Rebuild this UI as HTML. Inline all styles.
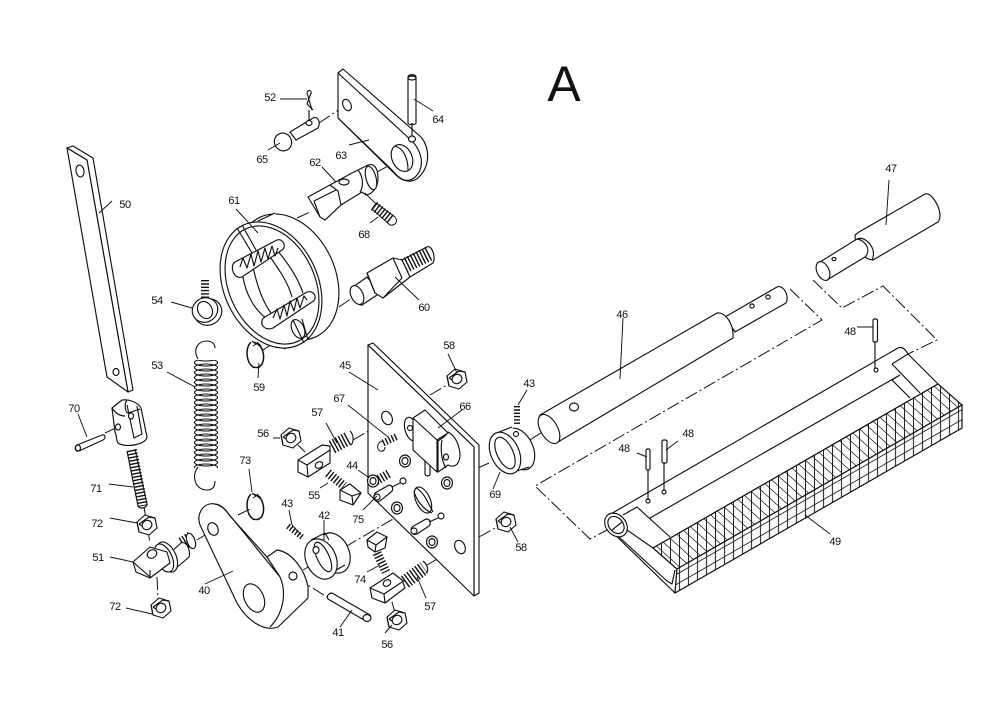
<!DOCTYPE html>
<html><head><meta charset="utf-8"><style>
html,body{margin:0;padding:0;background:#fff}
svg{display:block}
.p *,.p{fill:#fff;stroke:#111;stroke-width:1.15;stroke-linejoin:round}
.n{fill:none!important}
.c{fill:none;stroke:#111;stroke-width:1;stroke-dasharray:13 3 2 3}
.l{fill:none;stroke:#111;stroke-width:.95}
.t{fill:none;stroke:#111;stroke-dasharray:1.4 1.9}
text{font-family:"Liberation Sans",sans-serif;font-size:11px;letter-spacing:-.5px;fill:#111;text-anchor:middle;stroke:none}
</style></head><body>
<svg width="1000" height="707" viewBox="0 0 1000 707" xmlns="http://www.w3.org/2000/svg">
<defs>
<pattern id="ht" patternUnits="userSpaceOnUse" width="9" height="10" patternTransform="skewY(42)"><path d="M4.5 0V10M0 5H9" stroke="#222" stroke-width="1.1" fill="none"/></pattern>
<pattern id="hf" patternUnits="userSpaceOnUse" width="9" height="10" patternTransform="skewY(-30)"><path d="M4.5 0V10M0 5H9" stroke="#222" stroke-width="1.1" fill="none"/></pattern>
<pattern id="sp" patternUnits="userSpaceOnUse" x="194" y="360" width="24" height="5"><g fill="none" stroke="#111" stroke-width="1.1"><ellipse cx="12" cy="2.5" rx="11.5" ry="3.5"/><ellipse cx="12" cy="-2.5" rx="11.5" ry="3.5"/><ellipse cx="12" cy="7.5" rx="11.5" ry="3.5"/></g></pattern>
<g id="nut"><path d="M-10-3L-2-10 8-7 10 3 2 10-8 7Z"/><path class="n" d="M-10-3L-8 7M-8-1L2-8 8-7M-8-1L-2 3"/><ellipse cx="0" cy="0" rx="5" ry="4.5" transform="rotate(-30)"/></g>
<g id="ring"><ellipse rx="5.5" ry="6"/><ellipse rx="3" ry="3.5"/></g>
</defs>
<rect width="1000" height="707" fill="#fff"/>

<text x="564" y="101" style="font-size:50px;letter-spacing:0">A</text>

<path class="c" d="M790 289L822 320 535 486 590 539 607 530"/>
<path class="c" d="M813 280L842 308 883 286 937 340 908 354"/>
<path class="c" d="M319 123L343 107M375 173L405 157M297 218L310 212M339 307L352 298M263 350L293 330M105 433L118 427M144 507L150 543M157 577L158 600M197 540L213 530M238 515L252 508M295 577L327 597M303 570L323 558M345 547L417 505M292 525L303 537M298 445L305 452M353 440L387 420M400 435L412 428M391 472L403 462M392 487L403 481M427 565L458 547M392 602L395 613M430 395L447 385M479 537L497 527M478 468L489 463M497 460L505 453M530 440L548 428"/>

<g class="p">
<path d="M67 148L73 146 93 158 133 390 128 392 87 160Z"/>
<path d="M67 148L87 160 128 392 107 377Z"/>
<ellipse cx="80" cy="171" rx="4" ry="6" transform="rotate(-10 80 171)"/>
<ellipse cx="116" cy="372" rx="3" ry="3.5"/>
</g>

<g class="p">
<path d="M343 69L421 137C430 148 430 165 420 176 414 183 404 183 396 175L338 118 338 73Z"/>
<path class="n" d="M338 73L413 142C424 155 424 170 414 178 407 183 400 180 392 170L338 118"/>
<ellipse cx="347" cy="105" rx="4" ry="6" transform="rotate(-25 347 105)"/>
<ellipse cx="402" cy="158" rx="10" ry="14" transform="rotate(-25 402 158)"/>
<path class="n" d="M395 146C402 148 408 156 408 170"/>
<path d="M408 77C408 74 416 74 416 77V123C416 125 408 125 408 123Z"/>
<ellipse cx="412" cy="78" rx="4" ry="2"/>
<path class="n" d="M412 123V136"/>
<ellipse cx="412" cy="139" rx="3.5" ry="3"/>
</g>

<g class="p">
<path d="M290 132L313 118C318 116 321 122 318 128L296 140Z"/>
<ellipse cx="309" cy="123" rx="3" ry="2.5"/>
<ellipse cx="283" cy="142" rx="8.5" ry="9" transform="rotate(-30 283 142)"/>
<path class="n" d="M309 110V121M307 93L312 110M311 93L307 104 313 110M307 93C308 89 312 90 311 94"/>
</g>

<g class="p">
<path d="M330 185L352 173 368 165C374 163 378 168 378 178 378 188 372 194 366 195L362 192 341 205 325 220Z"/>
<ellipse cx="371" cy="178" rx="5" ry="12" transform="rotate(-15 371 178)"/>
<path class="n" d="M358 170C363 176 364 186 360 192"/>
<path d="M308 197L330 185 338 191 341 205 325 220 320 217Z"/>
<path class="n" d="M320 217L314 201 336 190"/>
<ellipse cx="344" cy="182" rx="5" ry="3"/>
</g>

<line class="t" x1="374" y1="206" x2="392" y2="220" stroke-width="10"/>
<path fill="none" stroke="#111" d="M372 209L376 203 395 217C399 222 394 226 390 225Z"/>

<g class="p">
<ellipse cx="288" cy="277" rx="47" ry="66" transform="rotate(-25 288 277)"/>
<path style="stroke:none" d="M258 221L275 213 301 341 284 349Z"/>
<path class="n" d="M258 221L275 213M284 349L301 341"/>
<ellipse cx="271" cy="285" rx="47" ry="66" transform="rotate(-25 271 285)"/>
<ellipse class="n" cx="272" cy="285" rx="43" ry="62" transform="rotate(-25 272 285)"/>
<path class="n" d="M243 277C246 295 255 310 266 318M253 267C258 290 265 308 276 319M277 250C287 262 298 278 303 293M268 254C278 268 288 282 292 297"/>
<path d="M235 262L277 240C283 238 287 247 282 250L242 277C234 280 229 266 235 262Z"/>
<path d="M265 317L307 292C315 290 318 299 312 302L273 328C263 332 258 321 265 317Z"/>
<polyline class="n" points="240,267 243,258 247,268 251,254 254,266 258,251 261,262 265,248 268,259 272,246 275,256 278,248"/>
<polyline class="n" points="273,318 277,309 280,319 284,305 287,316 290,301 294,311 297,298 300,308 304,296 307,300"/>
<path class="n" d="M237 228L252 253M242 225L256 250"/>
<ellipse cx="298" cy="329" rx="6" ry="10" transform="rotate(-25 298 329)"/>
<path class="n" d="M293 320L304 343M302 319L308 340"/>
</g>

<line class="t" x1="404" y1="266" x2="430" y2="253" stroke-width="15"/>
<g class="p">
<path class="n" d="M402 260L427 247C432 244 436 258 433 263L410 277"/>
<path d="M353 287L367 277 380 293 362 305C355 306 350 293 353 287Z"/>
<path d="M367 273L393 258 402 260 410 277 383 298 375 293Z"/>
<path class="n" d="M367 273L375 293M393 258L402 278 383 298"/>
<ellipse cx="357" cy="295" rx="6" ry="10" transform="rotate(-25 357 295)"/>
</g>

<line class="t" x1="205" y1="280" x2="205" y2="300" stroke-width="8"/>
<g class="p">
<ellipse cx="208" cy="312" rx="14" ry="13" transform="rotate(-30 208 312)"/>
<ellipse cx="205" cy="310" rx="13" ry="12" transform="rotate(-30 205 310)"/>
<ellipse cx="205" cy="310" rx="7" ry="9" transform="rotate(-30 205 310)"/>
</g>

<g fill="none" stroke="#111">
<path stroke-width="1.5" d="M251 342C245 348 246 362 253 367 262 370 266 360 262 349 260 345 256 343 253 342"/>
<path d="M252 341L256 344 253 346M257 342L261 346"/>
<path stroke-width="1.5" d="M251 494C245 500 246 514 253 519 262 522 266 512 262 501 260 497 256 495 253 494"/>
<path d="M252 493L256 496 253 498M257 494L261 498"/>
<path stroke-width="1.1" d="M198 359C192 348 199 341 207 341 212 341 215 344 215 348M198 467C191 476 195 490 207 490 213 490 215 486 215 481"/>
</g>
<rect x="194" y="360" width="24" height="108" fill="url(#sp)"/>

<g class="p">
<path d="M77 445L102 435C106 434 106 438 103 440L79 451C75 452 74 447 77 445Z"/>
<ellipse cx="78" cy="448" rx="2.5" ry="3"/>
</g>

<line class="t" x1="132" y1="450" x2="143" y2="506" stroke-width="10"/>
<g class="p">
<path class="n" d="M127 451L138 506C140 509 146 509 147 504L135 449"/>
<path d="M112 408L122 400C128 399 138 402 141 408L147 437C146 445 125 448 118 443 116 440 117 436 115 432Z"/>
<path class="n" d="M112 408C116 414 120 416 125 416M127 400C124 404 125 412 128 413L140 409M127 405L134 438 142 434 137 406"/>
<ellipse cx="118" cy="427" rx="2.5" ry="3"/><ellipse cx="131" cy="416" rx="2.5" ry="3"/>
</g>

<use href="#nut" x="147" y="525" class="p"/>
<use href="#nut" x="161" y="608" class="p"/>

<line class="t" x1="182" y1="544" x2="192" y2="538" stroke-width="14"/>
<g class="p">
<path d="M172 551L181 543C187 540 191 552 189 557L174 570Z"/>
<ellipse cx="191" cy="541" rx="4" ry="8" transform="rotate(-20 191 541)"/>
<ellipse cx="167" cy="557" rx="9" ry="16" transform="rotate(-25 167 557)"/>
<ellipse cx="164" cy="558" rx="8" ry="15" transform="rotate(-25 164 558)"/>
<path d="M133 562L150 547 167 552 170 563 150 578 136 572Z"/>
<path class="n" d="M133 562L150 577M150 578V570"/>
<ellipse cx="152" cy="554" rx="5" ry="4" transform="rotate(-30 152 554)"/>
</g>

<g class="p">
<path d="M267 557L277 550C292 552 305 570 308 587V598L278 627C265 632 248 622 237 603L200 525C196 513 204 502 215 504 222 505 226 510 230 516Z"/>
<path class="n" d="M215 504C222 505 226 511 232 518L280 577C286 590 285 612 270 627M267 557L280 577"/>
<ellipse cx="254" cy="598" rx="9.5" ry="15" transform="rotate(-25 254 598)"/>
<ellipse cx="213" cy="529" rx="5" ry="6.5" transform="rotate(-25 213 529)"/>
<ellipse cx="293" cy="576" rx="4" ry="4"/>
</g>

<g class="p">
<path d="M332 593L370 615C373 620 366 622 364 620L328 599C326 596 329 593 332 593Z"/>
<ellipse cx="367" cy="618" rx="4" ry="3.5"/>
</g>

<g class="p">
<ellipse cx="334" cy="553" rx="15" ry="21" transform="rotate(-25 334 553)"/>
<path style="stroke:none" d="M310 542L322 534 348 562 330 578Z"/>
<path class="n" d="M311 540L325 533M322 578L345 565"/>
<ellipse cx="321" cy="559" rx="15" ry="21" transform="rotate(-25 321 559)"/>
<ellipse cx="323" cy="557" rx="6" ry="16" transform="rotate(-25 323 557)"/>
<ellipse cx="316" cy="550" rx="3" ry="3.5"/>
<path class="n" d="M325 533L329 540"/>
</g>
<line class="t" x1="288" y1="526" x2="302" y2="537" stroke-width="6"/>

<g class="p">
<path d="M368 345L373 343 479 445 479 593 474 596 474 447Z"/>
<path d="M368 345L474 447V596L368 493Z"/>
<ellipse cx="387" cy="418" rx="5" ry="7" transform="rotate(-25 387 418)"/>
<ellipse cx="460" cy="547" rx="5" ry="7" transform="rotate(-25 460 547)"/>
<ellipse cx="423" cy="500" rx="7" ry="14" transform="rotate(-25 423 500)"/>
<path class="n" d="M416 488C424 492 428 503 433 512M414 491C416 500 424 510 432 513"/>
</g>
<use href="#ring" x="397" y="508" class="p"/>
<use href="#ring" x="447" y="483" class="p"/>
<use href="#ring" x="432" y="542" class="p"/>
<use href="#ring" x="405" y="461" class="p"/>

<g class="p">
<path d="M425 460V474C426 477 430 476 430 474V462Z"/>
<ellipse cx="411" cy="429" rx="6" ry="12" transform="rotate(-15 411 429)"/>
<path d="M448 432L445 436 438 441V472L448 465C458 470 462 458 459 448 457 439 452 434 448 432Z"/>
<path class="n" d="M442 440C440 450 442 462 446 468"/>
<ellipse cx="446" cy="457" rx="2.5" ry="3"/>
<path d="M413 418L425 410 448 433 437 440V472L413 450Z"/>
<path class="n" d="M413 418L437 440"/>
<ellipse cx="410" cy="428" rx="2.5" ry="2.5"/>
</g>

<line class="t" x1="383" y1="443" x2="398" y2="436" stroke-width="7"/>
<path fill="none" stroke="#111" d="M383 441C377 442 376 449 380 451 384 452 385 449 385 447"/>
<line class="t" x1="376" y1="481" x2="390" y2="473" stroke-width="9"/>
<use href="#ring" x="373" y="481" class="p"/>
<g class="p">
<path d="M375 493L389 485C394 486 393 491 391 492L380 501C374 503 373 497 375 493Z"/>
<ellipse cx="377" cy="497" rx="3" ry="3"/>
<ellipse cx="403" cy="481" rx="3" ry="3"/>
<path class="n" d="M392 487L400 483"/>
<path d="M412 527L426 519C431 519 431 524 429 526L417 534C412 536 410 531 412 527Z"/>
<ellipse cx="414" cy="531" rx="3" ry="3"/>
<ellipse cx="441" cy="516" rx="3" ry="3"/>
<path class="n" d="M429 522L438 518"/>
</g>

<line class="t" x1="332" y1="447" x2="349" y2="438" stroke-width="14"/>
<g class="p">
<path d="M298 460L322 445 330 446 330 463 308 477 298 472Z"/>
<path class="n" d="M298 460L307 465 308 477M307 465L330 450"/>
<ellipse cx="319" cy="465" rx="4" ry="3" transform="rotate(-30 319 465)"/>
<path class="n" d="M350 431C354 435 354 442 351 445"/>
</g>
<use href="#nut" x="291" y="438" class="p"/>

<line class="t" x1="328" y1="473" x2="344" y2="486" stroke-width="9"/>
<g class="p">
<path d="M340 490L350 484 361 493 353 505 340 500Z"/>
<path class="n" d="M340 490L352 496 353 505M352 496L361 493"/>
</g>

<line class="t" x1="377" y1="553" x2="386" y2="572" stroke-width="9"/>
<g class="p"><path d="M367 540L377 532 387 537 385 548 375 552 368 547Z"/><path class="n" d="M367 540L376 545 375 552M376 545L387 537"/></g>

<line class="t" x1="405" y1="582" x2="424" y2="568" stroke-width="14"/>
<g class="p">
<path d="M370 588L393 573 402 580 405 588 385 603 372 598Z"/>
<path class="n" d="M370 588L384 594 385 603M384 594L405 580"/>
<ellipse cx="387" cy="583" rx="4" ry="3" transform="rotate(-30 387 583)"/>
<path class="n" d="M423 561C428 565 429 571 426 573"/>
</g>
<use href="#nut" x="397" y="620" class="p"/>
<use href="#nut" x="457" y="379" class="p"/>
<use href="#nut" x="506" y="522" class="p"/>

<g class="p">
<ellipse cx="519" cy="449" rx="14" ry="22" transform="rotate(-25 519 449)"/>
<path style="stroke:none" d="M495 436L512 427 531 463 515 473Z"/>
<path class="n" d="M494 434L512 427M511 473L529 467"/>
<ellipse cx="505" cy="453" rx="14" ry="22" transform="rotate(-25 505 453)"/>
<ellipse cx="505" cy="453" rx="8" ry="17" transform="rotate(-25 505 453)"/>
<ellipse cx="516" cy="434" rx="2.5" ry="2.5"/>
</g>
<line class="t" x1="517" y1="406" x2="517" y2="424" stroke-width="6"/>

<g class="p">
<path d="M725 317L777 287C783 284 790 296 786 303L735 332Z"/>
<ellipse cx="752" cy="306" rx="2.2" ry="2"/><ellipse cx="768" cy="297" rx="2.2" ry="2"/>
<path d="M540 415L717 313C725 312 734 323 733 338L558 442C550 444 540 430 540 415Z"/>
<ellipse cx="549" cy="429" rx="8.5" ry="16" transform="rotate(-30 549 429)"/>
<ellipse cx="574" cy="407" rx="4.5" ry="4"/>
</g>

<g class="p">
<path d="M859 232L925 194C931 192 939 205 940 214 940 218 939 221 938 222L873 260C864 260 855 247 855 235Z"/>
<path d="M820 262L857 239C865 240 872 250 865 257L827 280Z"/>
<path class="n" d="M857 239C863 236 871 243 873 250 874 254 873 258 872 260"/>
<ellipse cx="823" cy="271" rx="6" ry="10" transform="rotate(-25 823 271)"/>
<ellipse cx="834" cy="259" rx="2" ry="1.6"/>
</g>

<g class="p">
<path d="M609 515L898 348C903 346 906 350 908 354L938 384 653 548 677 569 675 593 608 528Z"/>
<path class="n" d="M623 515L637 507 670 537M650 518L900 375M892 364L908 354M892 364L920 393M892 380L910 398M900 375L892 380"/>
<path class="n" d="M627 530L653 548M618 536L667 581 672 584 675 570"/>
<ellipse cx="616" cy="525" rx="10" ry="13" transform="rotate(-40 616 525)"/>
<ellipse cx="616" cy="525" rx="7" ry="9.5" transform="rotate(-40 616 525)"/>
<line x1="612" y1="530" x2="622" y2="522"/>
<circle cx="648" cy="501" r="2"/><circle cx="664" cy="492" r="2"/><circle cx="876" cy="370" r="2"/>
</g>
<path d="M653 548L938 384 962 405 677 569Z" fill="#fff"/>
<path d="M653 548L938 384 962 405 677 569Z" fill="url(#ht)" stroke="#111" stroke-width="1.2"/>
<path d="M677 569L962 405V428L675 593Z" fill="#fff"/>
<path d="M677 569L962 405V428L675 593Z" fill="url(#hf)" stroke="#111" stroke-width="1.2"/>

<g class="p">
<path class="n" d="M648 470V500M664 463V490M875 342V369"/>
<rect x="646" y="449" width="4" height="21" rx="1.5"/>
<rect x="662" y="440" width="5" height="23" rx="1.5"/>
<rect x="873" y="319" width="4.5" height="23" rx="1.5"/>
</g>

<path class="l" d="M280 99L307 99M268 150L280 143M433 111L414 99M349 145L369 140M322 167L336 182M365 193L375 203M370 223L378 217M99 213L112 201M236 209L258 233M419 300L395 277M171 302L192 308M167 372L195 387M78 414L87 437M109 484L133 487M110 518L137 523M110 557L133 562M126 608L152 614M249 469L252 492M259 363L258 378M205 584L233 571M289 510L292 525M324 520L324 540M340 627L352 610M326 423L337 443M348 405L388 437M273 438L280 438M358 470L368 477M320 488L328 483M363 510L377 496M367 572L380 565M417 577L426 598M385 633L392 625M448 354L457 373M510 527L518 542M438 428L462 410M349 372L378 390M527 390L518 405M500 472L493 489M623 318L620 379M889 180L886 225M857 327L873 327M637 453L647 457M666 450L678 441M805 515L830 534"/>

<text x="270" y="101">52</text><text x="438" y="123">64</text><text x="262" y="163">65</text>
<text x="341" y="159">63</text><text x="315" y="166">62</text><text x="234" y="204">61</text>
<text x="125" y="208">50</text><text x="364" y="238">68</text><text x="891" y="172">47</text>
<text x="424" y="311">60</text><text x="157" y="304">54</text><text x="622" y="318">46</text>
<text x="850" y="335">48</text><text x="449" y="349">58</text><text x="157" y="369">53</text>
<text x="259" y="391">59</text><text x="345" y="369">45</text><text x="529" y="387">43</text>
<text x="339" y="402">67</text><text x="74" y="412">70</text><text x="317" y="416">57</text>
<text x="465" y="410">66</text><text x="263" y="437">56</text><text x="688" y="437">48</text>
<text x="624" y="452">48</text><text x="352" y="469">44</text><text x="245" y="464">73</text>
<text x="314" y="499">55</text><text x="495" y="498">69</text><text x="96" y="492">71</text>
<text x="287" y="507">43</text><text x="358" y="523">75</text><text x="324" y="519">42</text>
<text x="97" y="527">72</text><text x="835" y="545">49</text><text x="521" y="551">58</text>
<text x="98" y="561">51</text><text x="360" y="583">74</text><text x="204" y="594">40</text>
<text x="430" y="610">57</text><text x="115" y="610">72</text><text x="338" y="636">41</text>
<text x="387" y="648">56</text>
</svg>
</body></html>
